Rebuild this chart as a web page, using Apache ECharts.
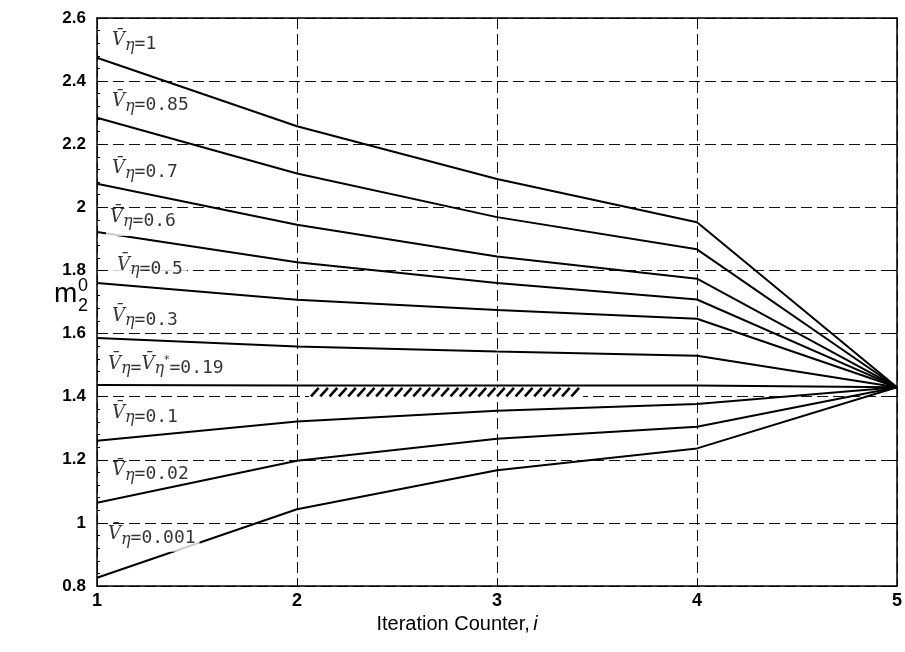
<!DOCTYPE html>
<html><head><meta charset="utf-8">
<script src="https://cdn.jsdelivr.net/npm/echarts@6/dist/echarts.min.js"></script>
<style>html,body{margin:0;padding:0;background:#fff}#c{width:905px;height:652px}</style>
</head><body><div id="c"></div>
<script>
// ---- data ----
const iterations = [1, 2, 3, 4, 5];
const vEtaLabels = ['1', '0.85', '0.7', '0.6', '0.5', '0.3', '0.19', '0.1', '0.02', '0.001'];
const starredLabel = '0.19';
const m_v1    = [2.474, 2.257, 2.090, 1.953, 1.430];
const m_v085  = [2.284, 2.107, 1.969, 1.867, 1.430];
const m_v07   = [2.075, 1.945, 1.844, 1.774, 1.430];
const m_v06   = [1.922, 1.826, 1.760, 1.708, 1.430];
const m_v05   = [1.760, 1.707, 1.675, 1.647, 1.430];
const m_v03   = [1.586, 1.559, 1.543, 1.530, 1.430];
const m_v019  = [1.437, 1.435, 1.435, 1.435, 1.430];
const m_v01   = [1.260, 1.321, 1.355, 1.377, 1.430];
const m_v002  = [1.064, 1.197, 1.267, 1.305, 1.430];
const m_v0001 = [0.826, 1.043, 1.167, 1.236, 1.430];
const seriesValues = [m_v1, m_v085, m_v07, m_v06, m_v05, m_v03, m_v019, m_v01, m_v002, m_v0001];
const hatchX = [2.07, 3.42];
const hatchY = [1.401, 1.428];
const yMin = 0.8, yMax = 2.6, yStep = 0.2;
const xMin = 1, xMax = 5, xStep = 1;

// ---- styling (label placement relative to each curve's first point) ----
const labelOffsets = [[11,-15],[11,-14],[11,-13],[9,-10],[16,-16],[11,-18],[7,-19],[11,-26],[11,-30],[7,-39]];
const labelPads    = [[0,4,0,4],[0,4,0,4],[0,4,0,4],[0,4,6,4],[0,4,0,4],[0,4,4,4],[0,4,0,4],[0,4,0,4],[0,4,0,4],[0,4,4,4]];
const labelBg      = [false, false, false, true, true, true, false, false, false, true];

const SANS = 'Liberation Sans, Arial, sans-serif';
const rich = {
  v: {fontFamily: 'DejaVu Serif', fontStyle: 'italic', fontSize: 18, color: '#000', verticalAlign: 'top', lineHeight: 22},
  e: {fontFamily: 'DejaVu Serif', fontStyle: 'italic', fontSize: 16, color: '#000', verticalAlign: 'bottom'},
  s: {fontFamily: 'DejaVu Sans', fontSize: 11, color: '#000', verticalAlign: 'top'},
  n: {fontFamily: 'DejaVu Sans Mono', fontSize: 18, color: '#000', verticalAlign: 'bottom'}
};
function labelText(lbl) {
  const V = 'V\u0304';
  if (lbl === starredLabel) return '{v|' + V + '}{e|η}{n|=}{v|' + V + '}{e|η}{s|*}{n|=' + lbl + '}';
  return '{v|' + V + '}{e|η}{n|=' + lbl + '}';
}

const series = [];
seriesValues.forEach((vals, k) => {
  series.push({
    type: 'line', name: vEtaLabels[k], xAxisIndex: 0, yAxisIndex: 0,
    data: iterations.map((x, i) => [x, vals[i]]),
    symbol: 'none', lineStyle: {color: '#000', width: 2}, z: 3, silent: true, animation: false
  });
  series.push({
    type: 'scatter', xAxisIndex: 0, yAxisIndex: 0, symbolSize: 0, z: 10, silent: true, animation: false,
    itemStyle: {color: 'transparent'},
    data: [[iterations[0], vals[0]]],
    label: {show: true, position: 'right', distance: 0, offset: labelOffsets[k],
      formatter: labelText(vEtaLabels[k]), rich: rich,
      backgroundColor: labelBg[k] ? '#fff' : 'transparent', padding: labelPads[k]}
  });
});
series.push({
  type: 'custom', xAxisIndex: 0, yAxisIndex: 0, z: 4, silent: true, animation: false,
  encode: {x: [0, 2], y: [1, 3]},
  data: [[hatchX[0], hatchY[0], hatchX[1], hatchY[1]]],
  renderItem: function (params, api) {
    const p0 = api.coord([api.value(0), api.value(1)]);
    const p1 = api.coord([api.value(2), api.value(3)]);
    const h = p0[1] - p1[1];
    const children = [{type: 'rect', shape: {x: p0[0] - 2, y: p1[1], width: p1[0] - p0[0] + 4, height: h + 3}, style: {fill: '#fff'}}];
    for (let x = p0[0]; x + h <= p1[0] + 0.5; x += 9.3) {
      children.push({type: 'line', shape: {x1: x, y1: p0[1], x2: x + h * 0.9, y2: p1[1]}, style: {stroke: '#000', lineWidth: 2.6}});
    }
    return {type: 'group', children: children};
  }
});

const chart = echarts.init(document.getElementById('c'), null, {renderer: 'canvas'});
const axisLine = {show: true, lineStyle: {color: '#000', width: 1.5}};
const dashed = {show: true, lineStyle: {color: '#111', width: 1, type: [11, 5]}};
chart.setOption({
  animation: false,
  backgroundColor: '#fff',
  grid: {left: 97, right: 8, top: 18, bottom: 66, show: false},
  xAxis: [
    {type: 'value', min: xMin, max: xMax, interval: xStep, position: 'bottom',
     axisLine: axisLine, axisTick: {inside: true, length: 7, lineStyle: {color: '#000'}},
     splitLine: dashed,
     axisLabel: {fontFamily: SANS, fontSize: 18, fontWeight: 'bold', color: '#000', margin: 6},
     name: '{a|Iteration Counter,} {i|i}', nameLocation: 'middle', nameGap: 17,
     nameTextStyle: {padding: [0, 80, 0, 0], rich: {
       a: {fontFamily: SANS, fontSize: 20, color: '#000'},
       i: {fontFamily: SANS, fontSize: 20, fontStyle: 'italic', color: '#000'}}}},
    {type: 'value', min: xMin, max: xMax, interval: xStep, position: 'top',
     axisLine: axisLine, axisTick: {inside: true, length: 7, lineStyle: {color: '#000'}},
     axisLabel: {show: false}, splitLine: {show: false}}
  ],
  yAxis: [
    {type: 'value', min: yMin, max: yMax, interval: yStep, position: 'left',
     axisLine: axisLine, axisTick: {inside: true, length: 7, lineStyle: {color: '#000'}},
     minorTick: {show: true, splitNumber: 5, length: 3, lineStyle: {color: '#000'}},
     splitLine: dashed,
     axisLabel: {fontFamily: SANS, fontSize: 17, fontWeight: 'bold', color: '#000', margin: 11}},
    {type: 'value', min: yMin, max: yMax, interval: yStep, position: 'right',
     axisLine: axisLine, axisTick: {inside: true, length: 7, lineStyle: {color: '#000'}},
     axisLabel: {show: false}, splitLine: {show: false}}
  ],
  graphic: [
    {type: 'text', left: 54, top: 280, style: {text: 'm', font: '28px ' + SANS, fill: '#000'}},
    {type: 'text', left: 78, top: 277, style: {text: '0', font: '18px ' + SANS, fill: '#000'}},
    {type: 'text', left: 78, top: 297, style: {text: '2', font: '18px ' + SANS, fill: '#000'}}
  ],
  series: series
});
</script>
</body></html>
